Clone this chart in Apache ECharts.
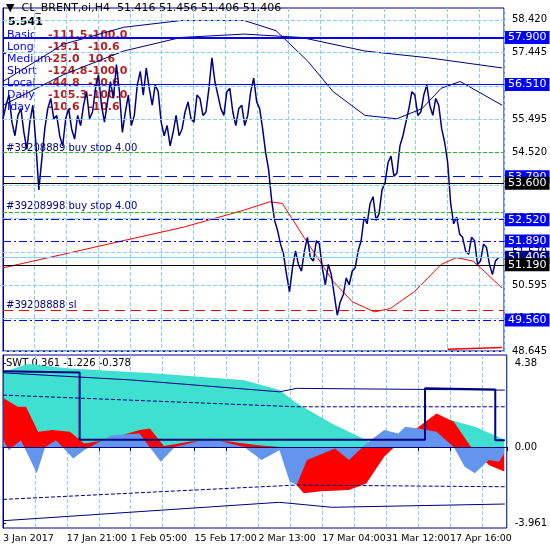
<!DOCTYPE html>
<html>
<head>
<meta charset="utf-8">
<script src="https://cdn.jsdelivr.net/npm/echarts@6/dist/echarts.min.js"></script>
<style>
  html, body { margin: 0; padding: 0; background: #fff; }
  #chart { width: 550px; height: 550px; }
</style>
</head>
<body>
<div id="chart"></div>
<script>
// x is in "date label" units: 0 = 3 Jan 2017, 1 = 17 Jan 21:00, ...
const dateLabels = ["3 Jan 2017", "17 Jan 21:00", "1 Feb 05:00", "15 Feb 17:00",
  "2 Mar 13:00", "17 Mar 04:00", "31 Mar 12:00", "17 Apr 16:00"];
const priceTicks = [58.420, 57.445, 56.470, 55.495, 54.520, 53.545, 52.570, 51.570, 50.595, 49.620, 48.645];
const swtTicks = [4.38, 0, -3.961];

// H4 prices
const price = [
  55.5, 55.9, 56.2, 55.4, 55.0, 55.6, 55.8, 55.1, 54.6, 55.4, 55.9, 54.8, 53.4, 54.3, 55.2, 55.8, 56.1, 55.5, 55.6, 55.0,
  54.7, 55.5, 55.8, 55.2, 54.9, 55.6, 55.3, 55.9, 56.3, 55.5, 55.7, 56.4, 56.8, 55.9, 55.4, 56.0, 56.6, 56.1, 57.1, 56.3,
  55.1, 55.7, 56.2, 55.3, 55.6, 56.5, 56.9, 56.2, 57.0, 56.4, 55.9, 56.5, 56.3, 55.4, 55.0, 55.3, 54.7, 55.1, 55.6, 55.0,
  55.2, 55.7, 56.0, 55.5, 55.4, 56.2, 56.1, 55.6, 55.7, 56.4, 57.3, 56.6, 56.2, 55.8, 55.6, 56.3, 56.4, 55.7, 55.3, 55.8,
  55.9, 55.3, 55.6, 56.3, 56.7, 56.0, 55.8, 55.2, 54.5, 54.0, 53.1, 52.5, 52.2, 51.8, 51.5, 50.9, 50.4, 51.1, 51.6, 51.2,
  51.0, 51.6, 52.0, 51.4, 51.3, 51.9, 51.8, 51.1, 50.6, 51.2, 50.9, 50.3, 49.7, 50.1, 50.3, 50.8, 50.6, 51.0, 51.1, 51.6,
  51.9, 52.6, 52.4, 53.0, 53.2, 52.5, 52.7, 53.4, 53.6, 54.2, 54.4, 53.8, 53.9, 54.7, 55.0, 55.4, 55.8, 56.3, 56.2, 55.6,
  55.7, 56.2, 56.5, 55.9, 55.6, 56.1, 55.9, 55.2, 54.8, 54.2, 53.0, 52.4, 52.6, 52.1, 52.0, 51.6, 51.5, 52.0, 51.9, 51.2,
  51.3, 51.8, 51.7, 51.2, 50.9, 51.3, 51.4];
const priceStep = 0.047;

const maRed = [[0, 51.1], [0.95, 51.5], [1.89, 51.9], [2.84, 52.3], [3.79, 52.8], [4.2, 53.05], [4.4, 53.0],
  [4.74, 52.0], [5.2, 50.7], [5.5, 50.1], [5.85, 49.8], [6.1, 49.9], [6.48, 50.4], [6.9, 51.2], [7.14, 51.4], [7.4, 51.3], [7.58, 51.0], [7.86, 50.5]];
const envFast = [[0, 56.6], [0.95, 57.7], [1.9, 58.2], [2.8, 58.4], [3.8, 58.4], [4.3, 58.1], [4.8, 57.2],
  [5.2, 56.3], [5.7, 55.6], [6.2, 55.5], [6.6, 55.8], [6.9, 56.4], [7.2, 56.6], [7.86, 55.9]];
const envSlow = [[0, 55.9], [0.95, 56.8], [1.9, 57.5], [2.8, 57.9], [3.8, 58.0], [4.7, 57.9],
  [5.7, 57.5], [6.7, 57.3], [7.86, 57.0]];
const lowRed = [[7.0, 48.70], [7.86, 48.75]];

// SWT panel
const swtCyan = [[0.01, 3.93], [0.39, 4.33], [1.05, 4.10], [2.41, 3.84], [3.78, 3.49], [4.33, 2.97],
  [4.6, 2.28], [5.15, 1.23], [5.69, 0.36], [5.86, 0], [7.0, 0], [7.01, 1.41], [7.39, 1.06], [7.85, 0.4]];
const swtRed = [[0.01, 2.54], [0.23, 2.1], [0.36, 2.1], [0.55, 0.8], [0.77, 0.89], [1.05, 0.8], [1.27, 0.19],
  [1.59, 0.36], [2.14, 0.89], [2.3, 0.97], [2.52, 0.05], [2.96, 0.3], [3.51, 0.3], [4.0, 0.1], [4.33, 0],
  [4.49, -1.55], [4.71, -2.41], [4.98, -2.3], [5.42, -2.24], [5.69, -1.9], [5.97, -0.5], [6.24, 0.36],
  [6.51, 1.06], [6.79, 1.75], [7.06, 1.32], [7.33, 0], [7.61, -0.94], [7.85, -1.28]];
const swtBlue = [[0.01, 0.36], [0.09, -0.16], [0.28, 0.36], [0.53, -1.37], [0.66, 0], [0.83, 0.36],
  [1.1, -0.6], [1.27, -0.16], [1.7, 0.62], [2.14, 0.71], [2.47, -0.76], [2.69, 0], [3.23, 0.45],
  [3.78, 0], [4.05, -0.68], [4.33, -0.16], [4.49, -1.8], [4.6, -1.98], [4.76, -0.68], [5.2, -0.07],
  [5.42, -0.68], [5.69, 0.19], [5.97, 0.89], [6.19, 0.71], [6.3, 1.06], [6.51, 0.97], [6.79, 0.8],
  [7.06, 0], [7.23, -1.02], [7.39, -1.37], [7.61, -0.68], [7.77, -0.76], [7.85, -0.33]];
const swtStep = [[0, 3.95], [1.2, 3.89], [1.2, 0.38], [6.61, 0.38], [6.61, 3.06], [7.71, 3.0], [7.71, 0.36], [7.86, 0.36]];
const swtSignal = [[0, 3.87], [2.0, 3.5], [4.33, 2.88], [4.6, 3.06], [7.86, 2.97]];
const swtUpDash = [[0, 2.71], [4.6, 2.1], [7.86, 2.1]];
const swtLoDash = [[0, -2.73], [4.6, -1.98], [7.86, -2.07]];
const swtLoLine = [[0, -3.84], [4.33, -2.88], [5.15, -3.14], [7.86, -2.97]];

const chart = echarts.init(document.getElementById("chart"));
const grid = "#87cefa";
const navy = "#000080";

function hLine(v, color, type, width, bg) {
  return {
    yAxis: v,
    lineStyle: { color: color, type: type, width: width },
    label: bg ? {
      show: true, position: "end", distance: 1, formatter: v.toFixed(3),
      color: "#fff", backgroundColor: bg, padding: [1, 3], fontSize: 11
    } : { show: false }
  };
}

const xCommon = {
  type: "value", min: 0, max: 7.89, interval: 0.5,
  splitLine: { show: true, lineStyle: { color: grid, type: "dashed" } },
  axisLine: { lineStyle: { color: navy } },
  axisTick: { show: false }
};

chart.setOption({
  animation: false,
  backgroundColor: "#fff",
  textStyle: { fontFamily: "DejaVu Sans" },
  grid: [
    { left: 3, right: 39, top: 8, height: 343, show: true, borderColor: navy },
    { left: 3, right: 39, top: 355, height: 173, show: true, borderColor: navy }
  ],
  xAxis: [
    Object.assign({}, xCommon, { gridIndex: 0, axisLabel: { show: false } }),
    Object.assign({}, xCommon, {
      gridIndex: 1,
      axisTick: { show: true, length: 4, lineStyle: { color: navy } },
      axisLabel: {
        color: "#000", fontSize: 9.5, align: "left", margin: 6,
        formatter: v => (Number.isInteger(v) ? dateLabels[v] : "")
      }
    })
  ],
  yAxis: [
    {
      type: "value", gridIndex: 0, position: "right", min: 48.645, max: 58.77,
      axisLine: { show: true, lineStyle: { color: navy } },
      axisTick: { show: true, customValues: priceTicks, length: 3 },
      axisLabel: { customValues: priceTicks, color: "#000", fontSize: 10, formatter: v => v.toFixed(3) },
      splitLine: { show: false }
    },
    {
      type: "value", gridIndex: 1, position: "right", min: -4.22, max: 4.8,
      axisLine: { show: true, lineStyle: { color: navy } },
      axisTick: { show: true, customValues: swtTicks, length: 3 },
      axisLabel: { customValues: swtTicks, color: "#000", fontSize: 10, formatter: v => (v === 0 ? "0.00" : String(v)) },
      splitLine: { show: false }
    }
  ],
  series: [
    {
      type: "line", xAxisIndex: 0, yAxisIndex: 0, data: [], silent: true,
      markLine: {
        symbol: "none", silent: true,
        data: priceTicks.map(v => ({ yAxis: v, lineStyle: { color: grid, type: "dashed", width: 1 }, label: { show: false } }))
      }
    },
    {
      type: "line", xAxisIndex: 0, yAxisIndex: 0, data: [], silent: true,
      markLine: {
        symbol: "none", silent: true,
        data: [
          hLine(57.900, "#0000ff", "solid", 2, "#0000ff"),
          hLine(56.510, "#0000ff", "solid", 1, "#0000ff"),
          hLine(54.520, "#22bb22", "dashed", 1, null),
          hLine(53.790, "#0000ff", [12, 6], 1, "#0000ff"),
          hLine(53.600, "#000", "solid", 1, "#000"),
          hLine(52.750, "#22bb22", "dashed", 1, null),
          hLine(52.520, "#0000ff", [8, 3, 2, 3], 1, "#0000ff"),
          hLine(51.890, "#0000ff", [8, 3, 2, 3], 1, "#0000ff"),
          hLine(51.406, "#87cefa", "solid", 1, navy),
          hLine(51.190, "#000", "solid", 1, "#000"),
          hLine(49.860, "#ff0000", [10, 6], 1, null),
          hLine(49.560, "#0000ff", [8, 3, 2, 3], 1, "#0000ff")
        ]
      }
    },
    { type: "line", xAxisIndex: 0, yAxisIndex: 0, data: envSlow, symbol: "none", lineStyle: { color: navy, width: 1 } },
    { type: "line", xAxisIndex: 0, yAxisIndex: 0, data: envFast, symbol: "none", lineStyle: { color: navy, width: 1 } },
    { type: "line", xAxisIndex: 0, yAxisIndex: 0, data: maRed, symbol: "none", lineStyle: { color: "#ff0000", width: 1 } },
    { type: "line", xAxisIndex: 0, yAxisIndex: 0, data: lowRed, symbol: "none", lineStyle: { color: "#ff0000", width: 1.5 } },
    {
      type: "line", xAxisIndex: 0, yAxisIndex: 0, symbol: "none",
      data: price.map((v, i) => [i * priceStep, v]),
      lineStyle: { color: navy, width: 1.5 }
    },
    {
      type: "line", xAxisIndex: 1, yAxisIndex: 1, data: [], silent: true,
      markLine: { symbol: "none", silent: true, data: [{ yAxis: 0, lineStyle: { color: navy, type: "solid", width: 1 }, label: { show: false } }] }
    },
    { type: "line", xAxisIndex: 1, yAxisIndex: 1, data: swtCyan, symbol: "none", lineStyle: { width: 0 }, areaStyle: { color: "#40e0d0", opacity: 1, origin: 0 } },
    { type: "line", xAxisIndex: 1, yAxisIndex: 1, data: swtRed, symbol: "none", lineStyle: { width: 0 }, areaStyle: { color: "#ff0000", opacity: 1, origin: 0 } },
    { type: "line", xAxisIndex: 1, yAxisIndex: 1, data: swtBlue, symbol: "none", lineStyle: { width: 0 }, areaStyle: { color: "#6495ed", opacity: 1, origin: 0 } },
    { type: "line", xAxisIndex: 1, yAxisIndex: 1, data: swtSignal, symbol: "none", lineStyle: { color: navy, width: 1 } },
    { type: "line", xAxisIndex: 1, yAxisIndex: 1, data: swtUpDash, symbol: "none", lineStyle: { color: navy, width: 1, type: "dashed" } },
    { type: "line", xAxisIndex: 1, yAxisIndex: 1, data: swtLoDash, symbol: "none", lineStyle: { color: navy, width: 1, type: "dashed" } },
    { type: "line", xAxisIndex: 1, yAxisIndex: 1, data: swtLoLine, symbol: "none", lineStyle: { color: navy, width: 1 } },
    { type: "line", xAxisIndex: 1, yAxisIndex: 1, data: swtStep, symbol: "none", lineStyle: { color: navy, width: 2 } }
  ],
  graphic: [
    { type: "text", left: 6, top: 3, style: { text: "▼  CL_BRENT,oi,H4  51.416 51.456 51.406 51.406", fill: "#000", fontSize: 11, fontFamily: "DejaVu Sans" } },
    { type: "text", left: 8, top: 17, style: { text: "5.541", fill: "#000", fontSize: 11, fontWeight: "bold", fontFamily: "DejaVu Sans" } },
    { type: "text", left: 7, top: 29, style: { text: "Basic\nLong\nMedium\nShort\nLocal\nDaily\nIday", fill: "#0000ff", fontSize: 11, lineHeight: 12, fontFamily: "DejaVu Sans" } },
    { type: "text", left: 48, top: 29, style: { text: "-111.5\n-19.1\n-25.0\n-124.8\n-44.8\n-105.3\n-10.6", fill: "#b22222", fontSize: 11, fontWeight: "bold", lineHeight: 12, fontFamily: "DejaVu Sans" } },
    { type: "text", left: 88, top: 29, style: { text: "-100.0\n-10.6\n10.6\n-100.0\n-10.6\n-100.0\n-10.6", fill: "#b22222", fontSize: 11, fontWeight: "bold", lineHeight: 12, fontFamily: "DejaVu Sans" } },
    { type: "text", left: 6, top: 143, style: { text: "#39208889 buy stop 4.00", fill: "#000080", fontSize: 10, fontFamily: "DejaVu Sans" } },
    { type: "text", left: 6, top: 201, style: { text: "#39208998 buy stop 4.00", fill: "#000080", fontSize: 10, fontFamily: "DejaVu Sans" } },
    { type: "text", left: 6, top: 300, style: { text: "#39208888 sl", fill: "#000080", fontSize: 10, fontFamily: "DejaVu Sans" } },
    { type: "text", left: 6, top: 358, style: { text: "SWT 0.361 -1.226 -0.378", fill: "#000", fontSize: 10, fontFamily: "DejaVu Sans" } }
  ]
});
</script>
</body>
</html>
